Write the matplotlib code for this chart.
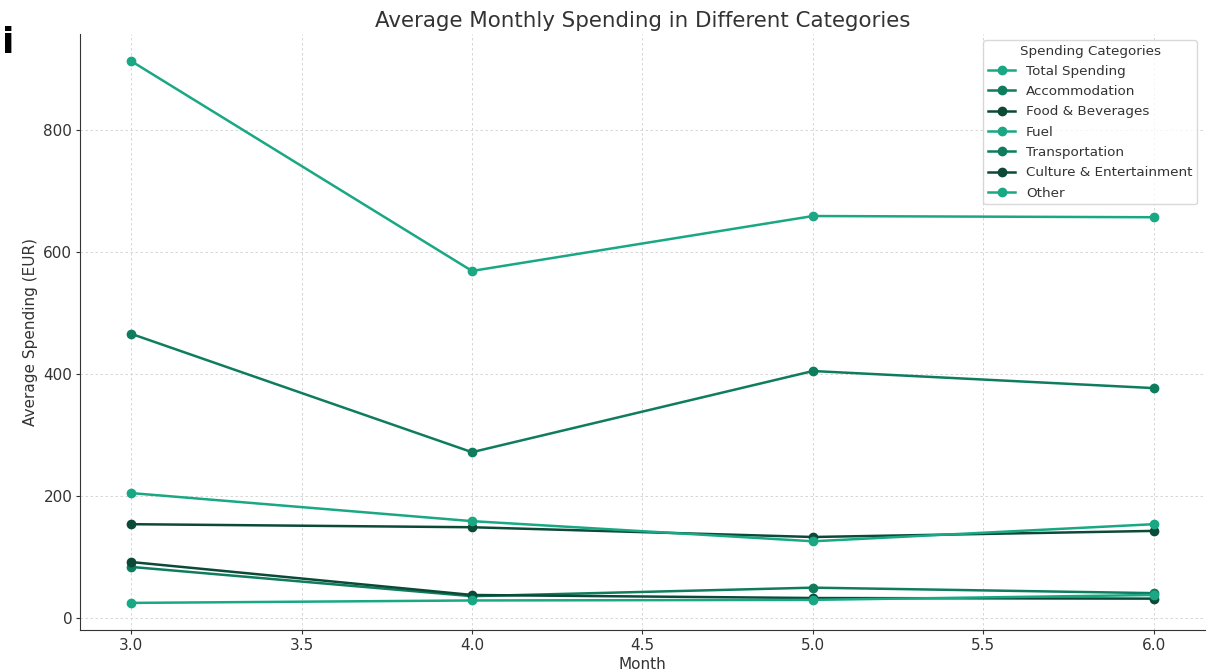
import matplotlib.pyplot as plt

months = [3.0, 4.0, 5.0, 6.0]
categories = ['Total Spending', 'Accommodation', 'Food & Beverages', 'Fuel',
              'Transportation', 'Culture & Entertainment', 'Other']

total = [913, 569, 659, 657]
accommodation = [466, 272, 405, 377]
food = [154, 149, 133, 143]
fuel = [205, 159, 126, 154]
transport = [84, 36, 50, 41]
culture = [92, 38, 33, 32]
other = [25, 29, 30, 38]

series = [total, accommodation, food, fuel, transport, culture, other]
palette = ['#19a883', '#0f7d5d', '#0c4a38']

fig = plt.figure(figsize=(12.17, 6.72), dpi=100)
ax = fig.add_axes([0.0657, 0.0625, 0.9244, 0.887])

for i, (name, vals) in enumerate(zip(categories, series)):
    ax.plot(months, vals, marker='o', markersize=6, linewidth=1.8,
            color=palette[i % 3], label=name)

ax.set_title('Average Monthly Spending in Different Categories',
             fontsize=15.4, color='#333333', pad=5)
ax.set_xlabel('Month', fontsize=11, color='#333333', labelpad=3)
ax.set_ylabel('Average Spending (EUR)', fontsize=11, color='#333333')
ax.set_xticks([3.0, 3.5, 4.0, 4.5, 5.0, 5.5, 6.0])
ax.set_xticklabels(['3.0', '3.5', '4.0', '4.5', '5.0', '5.5', '6.0'])
ax.set_yticks([0, 200, 400, 600, 800])
ax.tick_params(labelsize=11, colors='#333333', length=3, pad=2.5)
ax.grid(True, linestyle=(0, (3, 3)), color='#d0d0d0', linewidth=0.6)
ax.spines['top'].set_visible(False)
ax.spines['right'].set_visible(False)
for s in ['left', 'bottom']:
    ax.spines[s].set_color('#333333')

leg = ax.legend(title='Spending Categories', loc='upper right', fontsize=9.7,
                title_fontsize=9.7, labelcolor='#333333', labelspacing=0.54,
                borderpad=0.35, borderaxespad=0, edgecolor='#d0d0d0',
                bbox_to_anchor=(0.993, 0.99))
leg.get_title().set_color('#333333')

fig.text(0.002, 0.921, 'i', fontsize=26, fontweight='bold', color='black')

fig.savefig('out.png', dpi=100)
